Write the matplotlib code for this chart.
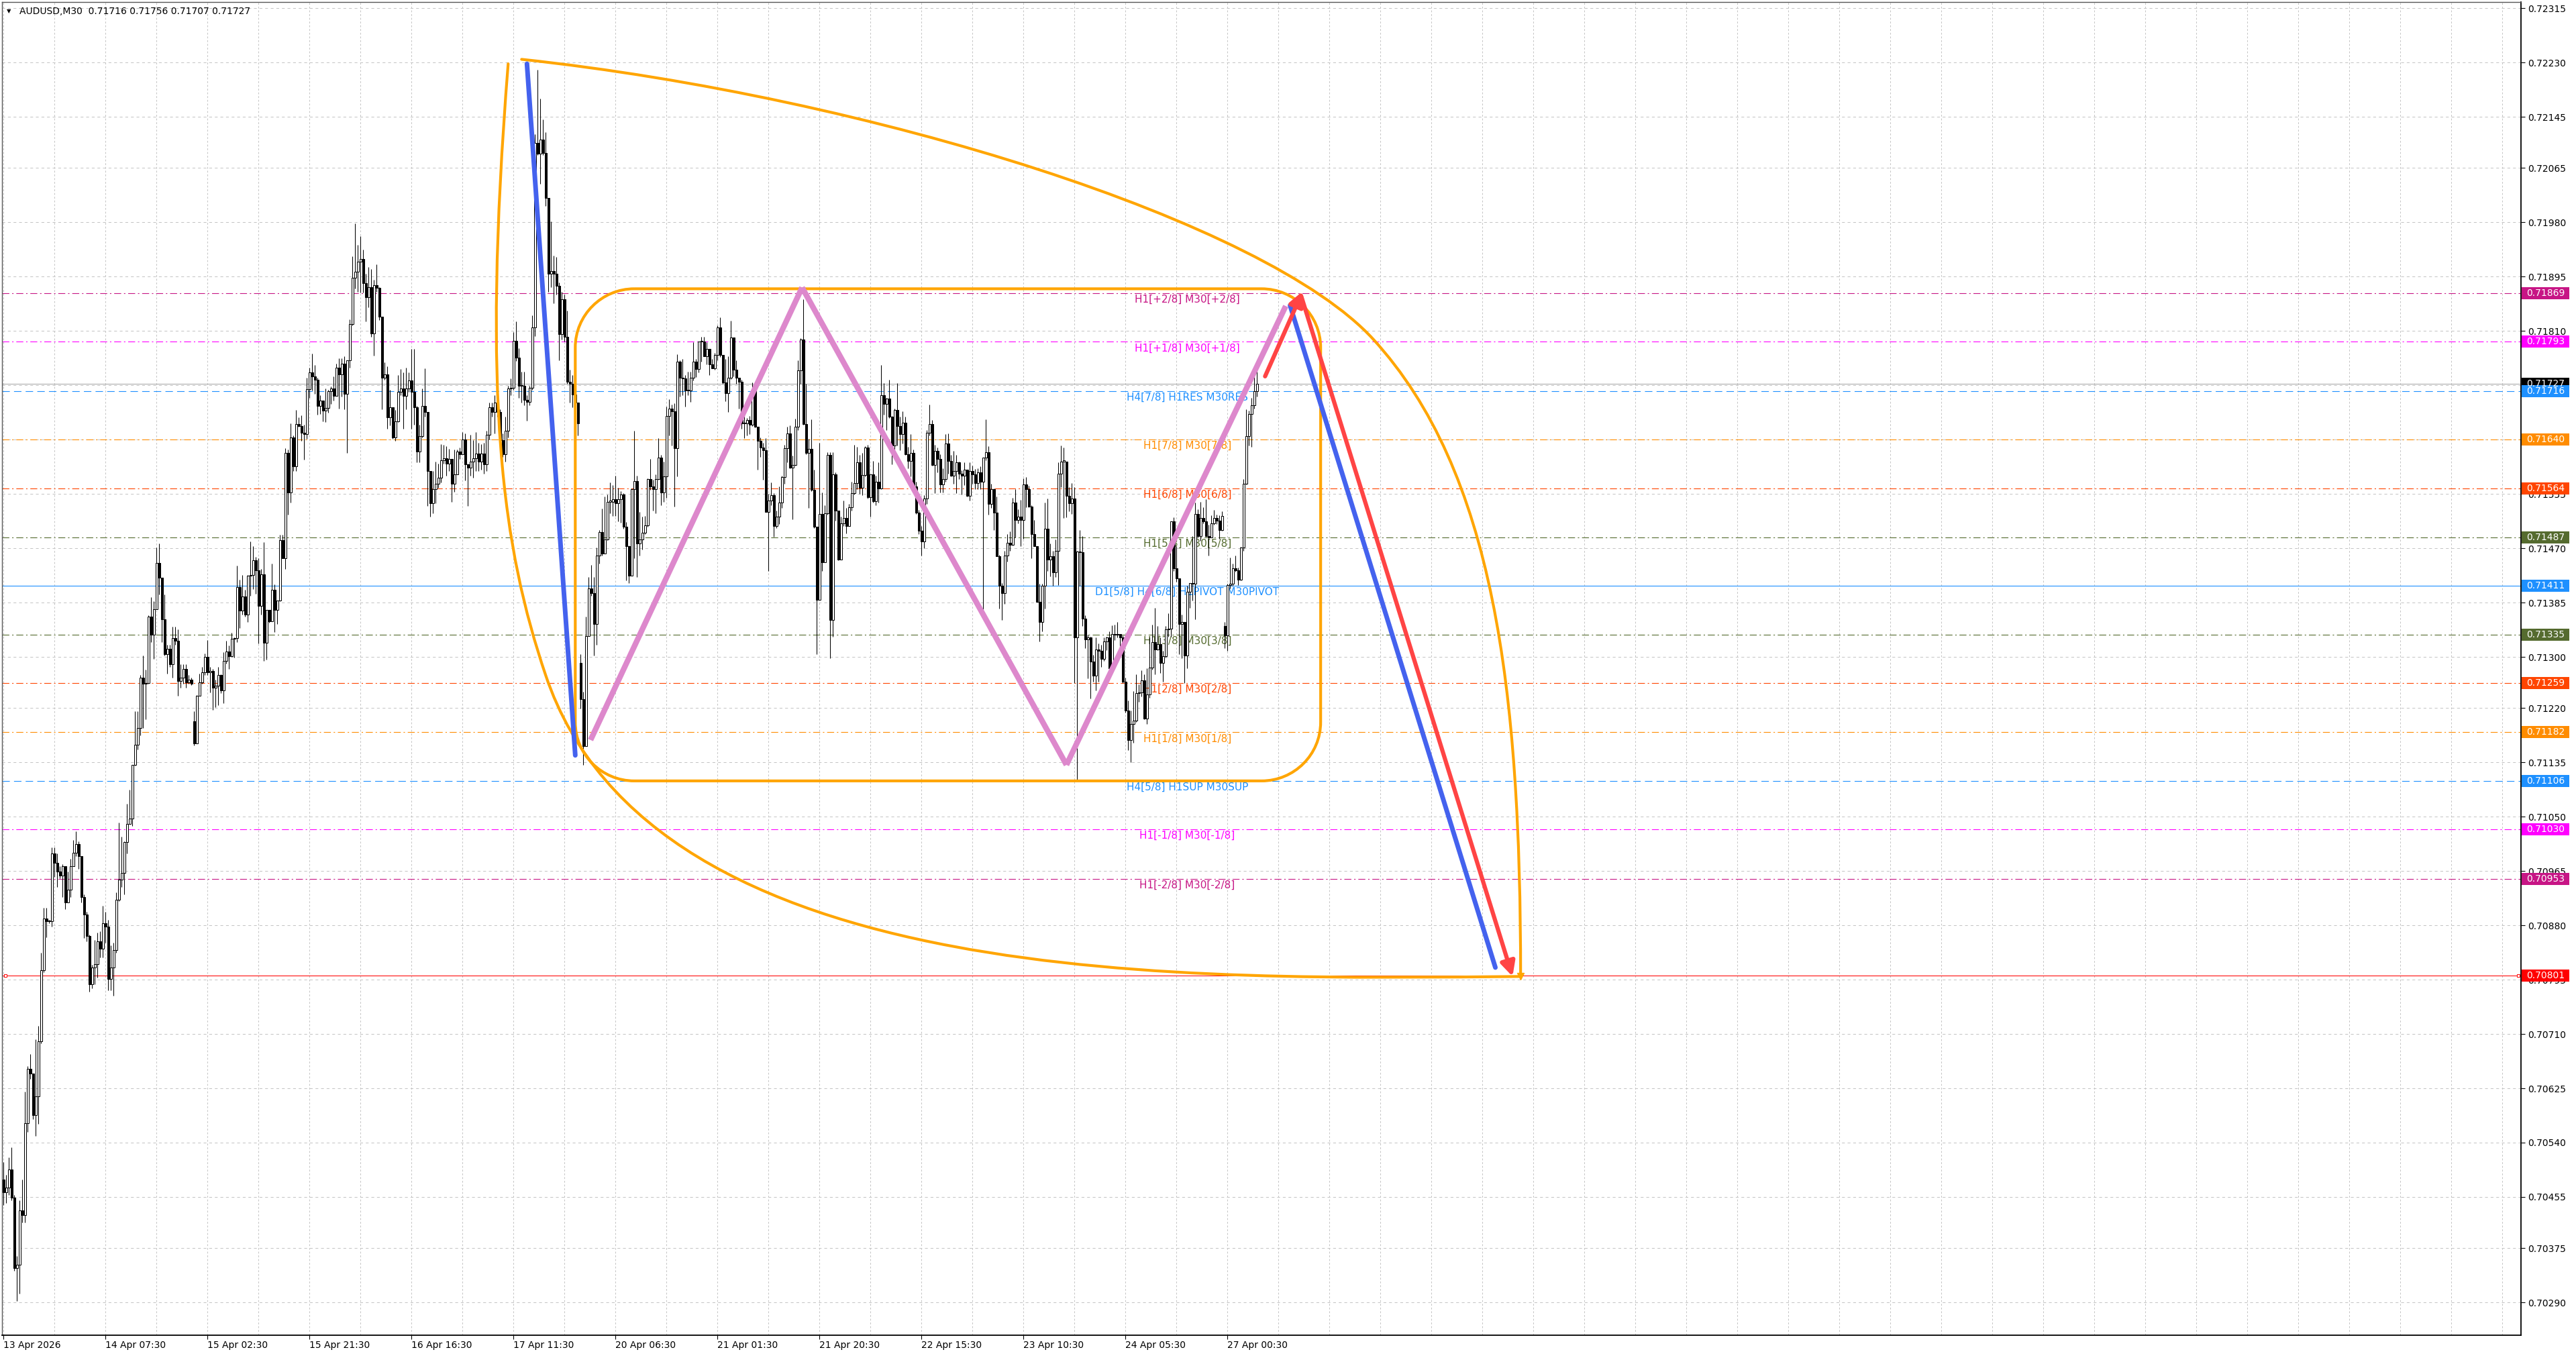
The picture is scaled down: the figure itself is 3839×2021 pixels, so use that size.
import matplotlib
matplotlib.use("Agg")
import matplotlib.pyplot as plt
import matplotlib.transforms as mtransforms
import numpy as np
from matplotlib.path import Path
from matplotlib.patches import PathPatch, Rectangle

plt.rcParams["font.family"] = ["DejaVu Sans"]
plt.rcParams["lines.scale_dashes"] = False

symbol_info = "AUDUSD,M30  0.71716 0.71756 0.71707 0.71727"

# M30 candles, prices in points (1e-5), open = previous close unless in gap_opens
first_open = 70482
closes = [
    70462, 70470, 70498, 70454, 70344, 70349, 70434, 70427, 70570, 70656,
    70648, 70583, 70612, 70699, 70810, 70891, 70886, 70886, 70992, 70978,
    70964, 70958, 70973, 70916, 70936, 70973, 70994, 71007, 70988, 70924,
    70897, 70863, 70788, 70814, 70819, 70855, 70843, 70883, 70878, 70796,
    70814, 70841, 70920, 70952, 70962, 71010, 71039, 71047, 71131, 71163,
    71189, 71268, 71258, 71259, 71363, 71335, 71375, 71447, 71424, 71359,
    71304, 71313, 71289, 71329, 71325, 71262, 71268, 71281, 71260, 71264,
    71258, 71165, 71239, 71260, 71276, 71300, 71276, 71278, 71252, 71255,
    71272, 71248, 71294, 71308, 71301, 71328, 71329, 71409, 71373, 71395,
    71366, 71427, 71428, 71451, 71435, 71380, 71429, 71322, 71374, 71356,
    71405, 71374, 71388, 71483, 71454, 71619, 71557, 71643, 71598, 71664,
    71661, 71651, 71649, 71719, 71745, 71739, 71734, 71693, 71701, 71685,
    71690, 71716, 71720, 71708, 71753, 71742, 71759, 71712, 71764, 71821,
    71893, 71903, 71918, 71923, 71885, 71863, 71878, 71806, 71882, 71877,
    71832, 71737, 71742, 71675, 71691, 71643, 71669, 71715, 71720, 71708,
    71720, 71733, 71715, 71691, 71621, 71645, 71693, 71683, 71591, 71540,
    71562, 71571, 71580, 71608, 71611, 71602, 71610, 71571, 71586, 71621,
    71617, 71640, 71601, 71596, 71606, 71611, 71618, 71606, 71618, 71601,
    71648, 71691, 71683, 71698, 71683, 71639, 71617, 71654, 71720, 71721,
    71795, 71768, 71724, 71724, 71702, 71699, 71721, 71816, 72104, 72087,
    72109, 72088, 72018, 71900, 71904, 71900, 71881, 71805, 71860, 71801,
    71731, 71727, 71711, 71698, 71665, 71234, 71160, 71333, 71407, 71400,
    71352, 71459, 71495, 71462, 71484, 71543, 71543, 71547, 71540, 71547,
    71554, 71504, 71473, 71427, 71563, 71575, 71477, 71484, 71494, 71506,
    71578, 71567, 71563, 71578, 71612, 71557, 71582, 71677, 71689, 71684,
    71627, 71762, 71737, 71736, 71717, 71717, 71737, 71762, 71750, 71794,
    71793, 71770, 71782, 71758, 71752, 71772, 71815, 71773, 71729, 71713,
    71737, 71800, 71749, 71737, 71731, 71665, 71665, 71671, 71663, 71717,
    71660, 71638, 71628, 71623, 71527, 71545, 71553, 71505, 71519, 71541,
    71581, 71627, 71650, 71596, 71600, 71660, 71748, 71797, 71664, 71619,
    71626, 71561, 71504, 71389, 71524, 71448, 71525, 71616, 71358, 71586,
    71529, 71452, 71509, 71517, 71505, 71534, 71556, 71572, 71605, 71565,
    71585, 71628, 71550, 71586, 71544, 71574, 71564, 71709, 71696, 71704,
    71676, 71631, 71686, 71661, 71649, 71666, 71617, 71607, 71619, 71567,
    71526, 71497, 71481, 71548, 71651, 71664, 71600, 71622, 71610, 71570,
    71578, 71634, 71607, 71584, 71591, 71605, 71587, 71583, 71593, 71552,
    71591, 71586, 71572, 71589, 71574, 71612, 71620, 71539, 71563, 71526,
    71458, 71411, 71400, 71459, 71479, 71475, 71542, 71514, 71520, 71514,
    71570, 71563, 71535, 71492, 71473, 71386, 71355, 71411, 71501, 71452,
    71458, 71432, 71466, 71587, 71606, 71606, 71552, 71540, 71548, 71330,
    71465, 71464, 71360, 71327, 71330, 71293, 71271, 71312, 71310, 71297,
    71324, 71330, 71282, 71336, 71335, 71336, 71330, 71261, 71216, 71170,
    71195, 71200, 71243, 71244, 71263, 71204, 71241, 71283, 71323, 71312,
    71320, 71291, 71301, 71343, 71344, 71512, 71439, 71423, 71351, 71355,
    71302, 71402, 71416, 71414, 71524, 71489, 71517, 71512, 71489, 71487,
    71509, 71517, 71513, 71498, 71521, 71334, 71412, 71415, 71439, 71435,
    71421, 71471, 71571, 71645, 71680, 71694, 71716, 71727,
]
highs = [
    70510, 70490, 70517, 70533, 70458, 70363, 70450, 70482, 70620, 70660,
    70679, 70648, 70702, 70723, 70837, 70907, 70907, 70889, 71002, 71002,
    70992, 70972, 70976, 70972, 70964, 70984, 71013, 71027, 71011, 70988,
    70928, 70901, 70865, 70818, 70857, 70869, 70871, 70911, 70901, 70889,
    70849, 70853, 70932, 71041, 71019, 71011, 71070, 71092, 71131, 71215,
    71215, 71272, 71302, 71280, 71365, 71394, 71387, 71471, 71477, 71424,
    71398, 71319, 71319, 71347, 71347, 71343, 71288, 71288, 71288, 71272,
    71268, 71215, 71240, 71274, 71284, 71305, 71326, 71284, 71281, 71264,
    71284, 71273, 71307, 71325, 71318, 71338, 71330, 71443, 71421, 71428,
    71405, 71428, 71481, 71473, 71457, 71454, 71438, 71480, 71374, 71374,
    71446, 71413, 71388, 71491, 71491, 71627, 71624, 71665, 71646, 71686,
    71675, 71678, 71663, 71737, 71753, 71775, 71757, 71737, 71709, 71690,
    71720, 71718, 71723, 71739, 71759, 71767, 71767, 71770, 71764, 71828,
    71927, 71978, 71945, 71958, 71937, 71900, 71910, 71907, 71890, 71914,
    71878, 71832, 71761, 71755, 71718, 71691, 71686, 71741, 71750, 71745,
    71753, 71745, 71782, 71782, 71693, 71663, 71720, 71751, 71682, 71591,
    71591, 71606, 71602, 71633, 71632, 71630, 71626, 71602, 71624, 71624,
    71628, 71652, 71650, 71602, 71648, 71639, 71652, 71635, 71633, 71635,
    71654, 71698, 71698, 71709, 71705, 71687, 71650, 71676, 71724, 71736,
    71808, 71825, 71783, 71746, 71746, 71709, 71724, 71834, 72118, 72219,
    72173, 72141, 72121, 72018, 71981, 71928, 71926, 71886, 71871, 71867,
    71842, 71749, 71741, 71709, 71694, 71304, 71245, 71363, 71425, 71444,
    71425, 71471, 71499, 71532, 71551, 71554, 71573, 71569, 71584, 71565,
    71559, 71556, 71511, 71474, 71564, 71654, 71583, 71527, 71519, 71521,
    71579, 71610, 71577, 71586, 71642, 71616, 71606, 71692, 71703, 71695,
    71697, 71774, 71764, 71766, 71741, 71746, 71746, 71792, 71766, 71794,
    71801, 71801, 71792, 71770, 71766, 71776, 71819, 71831, 71773, 71766,
    71770, 71826, 71800, 71764, 71737, 71734, 71682, 71674, 71677, 71729,
    71717, 71660, 71643, 71635, 71642, 71555, 71573, 71556, 71529, 71567,
    71583, 71632, 71660, 71662, 71615, 71673, 71764, 71799, 71860, 71727,
    71641, 71672, 71593, 71502, 71635, 71557, 71537, 71620, 71620, 71620,
    71589, 71519, 71519, 71545, 71533, 71539, 71574, 71632, 71629, 71616,
    71619, 71630, 71632, 71586, 71607, 71583, 71604, 71757, 71728, 71705,
    71734, 71677, 71688, 71728, 71676, 71684, 71676, 71629, 71649, 71624,
    71574, 71530, 71505, 71553, 71655, 71695, 71671, 71632, 71628, 71617,
    71595, 71649, 71650, 71616, 71622, 71616, 71606, 71592, 71604, 71582,
    71605, 71599, 71594, 71595, 71598, 71612, 71672, 71630, 71571, 71564,
    71551, 71460, 71416, 71466, 71492, 71496, 71549, 71563, 71531, 71546,
    71579, 71581, 71568, 71537, 71514, 71473, 71415, 71414, 71542, 71548,
    71477, 71466, 71484, 71605, 71631, 71628, 71606, 71566, 71572, 71566,
    71466, 71499, 71489, 71365, 71335, 71332, 71303, 71330, 71321, 71319,
    71330, 71332, 71340, 71349, 71350, 71355, 71334, 71334, 71268, 71232,
    71216, 71247, 71273, 71257, 71279, 71273, 71282, 71330, 71350, 71377,
    71348, 71330, 71309, 71348, 71368, 71512, 71518, 71473, 71421, 71366,
    71355, 71411, 71416, 71489, 71541, 71531, 71543, 71534, 71547, 71507,
    71522, 71530, 71523, 71522, 71528, 71355, 71414, 71455, 71446, 71459,
    71440, 71472, 71578, 71687, 71685, 71705, 71739, 71756,
]
lows = [
    70442, 70446, 70458, 70450, 70340, 70292, 70304, 70415, 70415, 70557,
    70640, 70577, 70551, 70569, 70695, 70807, 70861, 70883, 70878, 70956,
    70940, 70954, 70924, 70905, 70916, 70924, 70972, 70988, 70968, 70916,
    70860, 70855, 70776, 70781, 70788, 70798, 70830, 70830, 70853, 70778,
    70778, 70770, 70837, 70918, 70940, 70928, 70992, 71039, 71035, 71130,
    71155, 71177, 71189, 71202, 71258, 71323, 71297, 71375, 71398, 71323,
    71302, 71274, 71284, 71268, 71319, 71239, 71252, 71258, 71252, 71258,
    71256, 71161, 71168, 71240, 71258, 71272, 71272, 71244, 71217, 71221,
    71225, 71243, 71228, 71290, 71281, 71300, 71299, 71323, 71345, 71366,
    71363, 71355, 71396, 71406, 71399, 71321, 71366, 71294, 71296, 71354,
    71358, 71339, 71352, 71387, 71454, 71438, 71523, 71542, 71591, 71591,
    71660, 71638, 71609, 71641, 71705, 71717, 71712, 71679, 71680, 71669,
    71668, 71682, 71696, 71701, 71708, 71689, 71707, 71687, 71619, 71753,
    71819, 71876, 71871, 71870, 71870, 71825, 71847, 71801, 71771, 71871,
    71827, 71687, 71734, 71657, 71662, 71641, 71638, 71667, 71709, 71657,
    71687, 71715, 71657, 71663, 71605, 71605, 71643, 71676, 71536, 71520,
    71525, 71540, 71565, 71573, 71602, 71584, 71591, 71543, 71558, 71586,
    71610, 71617, 71576, 71536, 71584, 71580, 71591, 71591, 71593, 71587,
    71591, 71640, 71676, 71650, 71676, 71632, 71613, 71606, 71643, 71709,
    71718, 71763, 71705, 71698, 71694, 71670, 71694, 71718, 71802, 72085,
    72040, 72085, 72006, 71871, 71878, 71853, 71867, 71764, 71797, 71794,
    71727, 71698, 71691, 71683, 71646, 71219, 71131, 71160, 71333, 71396,
    71302, 71319, 71446, 71459, 71462, 71483, 71525, 71521, 71521, 71512,
    71510, 71501, 71420, 71416, 71427, 71454, 71425, 71459, 71468, 71492,
    71504, 71561, 71529, 71525, 71577, 71537, 71543, 71549, 71647, 71631,
    71535, 71582, 71707, 71709, 71692, 71709, 71699, 71733, 71738, 71745,
    71762, 71770, 71758, 71741, 71752, 71749, 71764, 71769, 71727, 71700,
    71683, 71735, 71739, 71727, 71689, 71657, 71642, 71647, 71649, 71661,
    71659, 71593, 71613, 71577, 71527, 71434, 71537, 71488, 71502, 71508,
    71533, 71571, 71605, 71595, 71515, 71599, 71655, 71727, 71663, 71617,
    71533, 71559, 71502, 71304, 71389, 71434, 71450, 71523, 71298, 71332,
    71513, 71451, 71456, 71505, 71493, 71511, 71529, 71554, 71563, 71555,
    71553, 71582, 71548, 71520, 71541, 71537, 71542, 71563, 71679, 71655,
    71674, 71601, 71619, 71631, 71623, 71634, 71616, 71595, 71582, 71563,
    71524, 71492, 71459, 71470, 71539, 71646, 71599, 71556, 71589, 71557,
    71557, 71574, 71587, 71582, 71571, 71556, 71578, 71554, 71569, 71551,
    71545, 71571, 71563, 71563, 71563, 71370, 71608, 71523, 71533, 71499,
    71458, 71376, 71358, 71383, 71449, 71466, 71474, 71487, 71509, 71473,
    71485, 71534, 71534, 71454, 71473, 71386, 71324, 71340, 71376, 71434,
    71426, 71411, 71425, 71412, 71566, 71517, 71518, 71528, 71524, 71259,
    71107, 71411, 71348, 71314, 71266, 71235, 71261, 71248, 71261, 71284,
    71294, 71311, 71280, 71283, 71326, 71330, 71314, 71259, 71213, 71154,
    71135, 71166, 71198, 71230, 71238, 71202, 71195, 71236, 71280, 71273,
    71311, 71275, 71261, 71299, 71332, 71332, 71434, 71418, 71304, 71298,
    71259, 71282, 71377, 71388, 71359, 71487, 71482, 71509, 71488, 71459,
    71489, 71507, 71508, 71485, 71497, 71314, 71309, 71407, 71411, 71433,
    71412, 71420, 71466, 71570, 71631, 71629, 71689, 71707,
]
gap_opens = {71: 71199, 215: 71291, 455: 71348}

time_labels = ["13 Apr 2026", "14 Apr 07:30", "15 Apr 02:30", "15 Apr 21:30",
               "16 Apr 16:30", "17 Apr 11:30", "20 Apr 06:30", "21 Apr 01:30",
               "21 Apr 20:30", "22 Apr 15:30", "23 Apr 10:30", "24 Apr 05:30",
               "27 Apr 00:30"]
time_label_bars = [0, 38, 76, 114, 152, 190, 228, 266, 304, 342, 380, 418, 456]

price_ticks = [0.72315, 0.72230, 0.72145, 0.72065, 0.71980, 0.71895, 0.71810,
               0.71725, 0.71640, 0.71555, 0.71470, 0.71385, 0.71300, 0.71220,
               0.71135, 0.71050, 0.70965, 0.70880, 0.70795, 0.70710, 0.70625,
               0.70540, 0.70455, 0.70375, 0.70290]

# Murrey math levels
level_prices = [0.71869, 0.71793, 0.71716, 0.71640, 0.71564, 0.71487, 0.71411,
                0.71335, 0.71259, 0.71182, 0.71106, 0.71030, 0.70953]
level_labels = ["H1[+2/8] M30[+2/8]", "H1[+1/8] M30[+1/8]", "H4[7/8] H1RES M30RES",
                "H1[7/8] M30[7/8]", "H1[6/8] M30[6/8]", "H1[5/8] M30[5/8]",
                "D1[5/8] H4[6/8] H1PIVOT M30PIVOT", "H1[3/8] M30[3/8]",
                "H1[2/8] M30[2/8]", "H1[1/8] M30[1/8]", "H4[5/8] H1SUP M30SUP",
                "H1[-1/8] M30[-1/8]", "H1[-2/8] M30[-2/8]"]
level_colors = ["#C71585", "#FF00FF", "#1E90FF", "#FF8C00", "#FF4500", "#556B2F",
                "#1E90FF", "#556B2F", "#FF4500", "#FF8C00", "#1E90FF", "#FF00FF",
                "#C71585"]
DD = (0, (7.5, 3, 1.5, 3))
DS = (0, (8, 4.5))
level_styles = [DD, DD, DS, DD, DD, DD, "-", DD, DD, DD, DS, DD, DD]
label_bar = 441

last_price = 0.71727
target_price = 0.70801

# hand drawn objects, (bar index, price)
blue_leg_1 = [(195, 0.72228), (213, 0.71146)]
blue_leg_2 = [(479.3, 0.71850), (555.8, 0.70814)]
red_arrow_short = [(470, 0.71739), (484, 0.71872)]
red_arrow_long = [(483.5, 0.71864), (562.2, 0.70800)]
zigzag = [(218.7, 0.71170), (297.5, 0.71878), (396, 0.71131), (477.7, 0.71849)]
range_box = (213, 490.7, 0.71106, 0.71876)   # left, right, bottom, top
arc_upper = [(193, 0.72235), (323, 0.72176), (470.3, 0.71981), (510.3, 0.71797),
             (555.3, 0.71590), (565.2, 0.71250), (565.2, 0.70800)]
arc_lower = [(188, 0.72228), (178, 0.71700), (186, 0.71470), (202, 0.71271),
             (242, 0.70773), (445, 0.70796), (565.2, 0.70800)]

W, H = 3839, 2021
fig = plt.figure(figsize=(W / 100, H / 100), dpi=100)
ax = fig.add_axes([3 / W, 31 / H, 3754 / W, 1987.3 / H])
ax.set_xlim(-0.575, 937.9)
ax.set_ylim(0.702387, 0.72325)

# grid
for y in price_ticks:
    ax.axhline(y, color="#C4C4C4", lw=0.72, ls=(0, (3, 3)), zorder=0.5)
for x in np.arange(0, 938, 19):
    ax.axvline(x, color="#C4C4C4", lw=0.72, ls=(0, (2, 2)), zorder=0.5)

# levels
for p, lab, col, st in zip(level_prices, level_labels, level_colors, level_styles):
    ax.axhline(p, color=col, lw=0.8, ls=st, zorder=1)
    ax.text(label_bar, p - 0.00002, lab, color=col, fontsize=11, ha="center",
            va="top", zorder=1.5)
ax.axhline(last_price, color="#A8A8A8", lw=0.75, zorder=1)
ax.axhline(target_price, color="#FF0000", lw=0.75, zorder=1)
ax.plot([0.6, 936.8], [target_price, target_price], ls="none", marker="s", ms=3,
        mfc="white", mec="#FF0000", mew=0.7, zorder=1.2)

# candles
c = np.array(closes) / 1e5
hi = np.array(highs) / 1e5
lo = np.array(lows) / 1e5
o = np.empty_like(c)
o[0] = first_open / 1e5
o[1:] = c[:-1]
for i, v in gap_opens.items():
    o[i] = v / 1e5
xs = np.arange(len(c))
top = np.maximum(o, c)
bot = np.minimum(o, c)
ax.vlines(xs, np.minimum(lo, bot), np.maximum(hi, top), color="black", lw=0.75, zorder=2)
body = np.maximum(top - bot, 0.000012)
fill = np.where(c >= o, "white", "black")
ax.bar(xs, body, bottom=bot, width=0.72, color=fill, edgecolor="black",
       linewidth=0.75, zorder=2.1)

# orange shapes
ORANGE = "#FFA500"


def bezier_path(pts):
    codes = [Path.MOVETO] + [Path.CURVE4] * (len(pts) - 1)
    return Path(pts, codes)


for pts in (arc_upper, arc_lower):
    ax.add_patch(PathPatch(bezier_path(pts), fill=False, edgecolor=ORANGE, lw=3,
                           zorder=3, capstyle="round"))
ax.plot([arc_upper[-1][0]], [arc_upper[-1][1]], marker="v", ms=7, color=ORANGE,
        zorder=3)

L, R, B, T = range_box
rx, ry, k = 22, 0.00092, 0.5523
box_pts = [
    (L + rx, T), (R - rx, T),
    (R - rx + k * rx, T), (R, T - ry + k * ry), (R, T - ry),
    (R, B + ry),
    (R, B + ry - k * ry), (R - rx + k * rx, B), (R - rx, B),
    (L + rx, B),
    (L + rx - k * rx, B), (L, B + ry - k * ry), (L, B + ry),
    (L, T - ry),
    (L, T - ry + k * ry), (L + rx - k * rx, T), (L + rx, T),
]
box_codes = [Path.MOVETO, Path.LINETO, Path.CURVE4, Path.CURVE4, Path.CURVE4,
             Path.LINETO, Path.CURVE4, Path.CURVE4, Path.CURVE4, Path.LINETO,
             Path.CURVE4, Path.CURVE4, Path.CURVE4, Path.LINETO, Path.CURVE4,
             Path.CURVE4, Path.CURVE4]
ax.add_patch(PathPatch(Path(box_pts, box_codes), fill=False, edgecolor=ORANGE,
                       lw=3, zorder=3))

# zigzag
PINK = "#DD88CC"
for a, b in zip(zigzag[:-1], zigzag[1:]):
    ax.plot([a[0], b[0]], [a[1], b[1]], color=PINK, lw=6, solid_capstyle="butt",
            zorder=3.2)

# trend legs
BLUE = "#4462EE"
RED = "#FF4444"
for leg in (blue_leg_1, blue_leg_2):
    ax.plot([leg[0][0], leg[1][0]], [leg[0][1], leg[1][1]], color=BLUE, lw=5,
            solid_capstyle="round", zorder=3.5)
for arr in (red_arrow_short, red_arrow_long):
    ax.annotate("", xy=arr[1], xytext=arr[0],
                arrowprops=dict(arrowstyle="-|>,head_length=0.8,head_width=0.4",
                                color=RED, lw=4.5, shrinkA=0, shrinkB=0,
                                mutation_scale=16),
                zorder=3.6)

# axes styling
ax.yaxis.tick_right()
ax.set_yticks(price_ticks)
ax.set_yticklabels([f"{v:.5f}" for v in price_ticks])
ax.set_xticks(time_label_bars)
ax.set_xticklabels(time_labels, ha="left")
ax.tick_params(axis="y", direction="out", length=4, width=0.8, pad=3, labelsize=10,
               colors="black")
ax.tick_params(axis="x", direction="out", length=4, width=0.8, pad=2, labelsize=10,
               colors="black")
for side in ("right", "bottom"):
    ax.spines[side].set_color("black")
    ax.spines[side].set_linewidth(1.3)
for side in ("left", "top"):
    ax.spines[side].set_color("#555555")
    ax.spines[side].set_linewidth(1.0)

# price boxes on the scale
trans = mtransforms.blended_transform_factory(ax.transAxes, ax.transData)
bw = 71 / 3754
bh = 18 * 1.0498e-5
box_prices = [last_price] + level_prices + [target_price]
box_colors = ["black"] + level_colors + ["#FF0000"]
for p, col in zip(box_prices, box_colors):
    ax.add_patch(Rectangle((1.0003, p - bh / 2), bw, bh, transform=trans,
                           facecolor=col, edgecolor="none", clip_on=False, zorder=5))
    ax.text(1.0003 + bw / 2, p, f"{p:.5f}", transform=trans, color="white",
            fontsize=10, ha="center", va="center", clip_on=False, zorder=6)

# header
fig.text(29 / W, 1 - 17 / H, symbol_info, fontsize=10, ha="left", va="center")
fig.text(13 / W, 1 - 17 / H, "\u25bc", fontsize=6, ha="center", va="center")

fig.savefig("out.png", dpi=100)
